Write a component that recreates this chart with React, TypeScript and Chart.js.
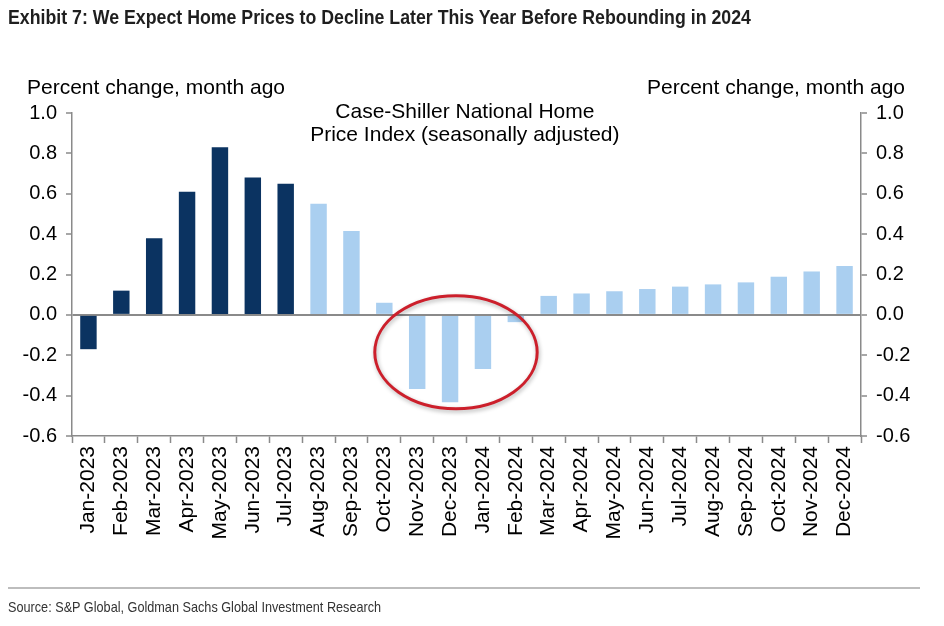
import React, { useEffect, useRef } from 'react';
import { Chart, registerables } from 'chart.js';

Chart.register(...registerables);

const months = [
  'Jan-2023', 'Feb-2023', 'Mar-2023', 'Apr-2023', 'May-2023', 'Jun-2023',
  'Jul-2023', 'Aug-2023', 'Sep-2023', 'Oct-2023', 'Nov-2023', 'Dec-2023',
  'Jan-2024', 'Feb-2024', 'Mar-2024', 'Apr-2024', 'May-2024', 'Jun-2024',
  'Jul-2024', 'Aug-2024', 'Sep-2024', 'Oct-2024', 'Nov-2024', 'Dec-2024'
];

// m/m % change, actuals through Jul-2023 then forecast
const priceChange = [
  -0.17, 0.12, 0.38, 0.61, 0.83, 0.68,
  0.65, 0.55, 0.415, 0.06, -0.367, -0.433,
  -0.268, -0.036, 0.094, 0.106, 0.117, 0.128,
  0.14, 0.151, 0.161, 0.189, 0.215, 0.242
];

const actualMonths = 7;

const yTicks = [-0.6, -0.4, -0.2, 0.0, 0.2, 0.4, 0.6, 0.8, 1.0];

const annotationLines = ['Case-Shiller National Home', 'Price Index (seasonally adjusted)'];

const NAVY = '#0b3361';
const LIGHT = '#aacff0';
const AXIS = '#8a8a8a';
const FONT = "'Liberation Sans', Arial, sans-serif";

// annotation text + red ellipse round the trough
const overlayPlugin = {
  id: 'overlay',
  afterDatasetsDraw(chart: any) {
    const { ctx, scales } = chart;
    const x = scales.x;
    const y = scales.y;

    ctx.save();
    ctx.fillStyle = '#000';
    ctx.font = `21px ${FONT}`;
    ctx.textAlign = 'center';
    ctx.textBaseline = 'middle';
    const cx = x.getPixelForValue(11.45);
    annotationLines.forEach((line, i) => {
      ctx.fillText(line, cx, 112 + i * 23);
    });

    const ex = x.getPixelForValue(11.18);
    const ey = y.getPixelForValue(-0.185);
    const rx = x.getPixelForValue(13.65) - ex;
    const ry = y.getPixelForValue(-0.465) - ey;
    ctx.shadowColor = 'rgba(0,0,0,0.3)';
    ctx.shadowBlur = 4;
    ctx.shadowOffsetX = 1;
    ctx.shadowOffsetY = 2;
    ctx.strokeStyle = '#cc1f2b';
    ctx.lineWidth = 3;
    ctx.beginPath();
    ctx.ellipse(ex, ey, rx, ry, 0, 0, Math.PI * 2);
    ctx.stroke();
    ctx.restore();
  }
};

const HomePriceChart: React.FC = () => {
  const chartRef = useRef<HTMLCanvasElement | null>(null);
  const chartInstance = useRef<Chart | null>(null);

  useEffect(() => {
    if (!chartRef.current) return;
    if (chartInstance.current) chartInstance.current.destroy();
    const ctx = chartRef.current.getContext('2d');
    if (!ctx) return;

    const colors = priceChange.map((_, i) => (i < actualMonths ? NAVY : LIGHT));

    const yScale = (position: 'left' | 'right', width: number) => ({
      type: 'linear' as const,
      position,
      min: yTicks[0],
      max: yTicks[yTicks.length - 1],
      afterBuildTicks: (scale: any) => {
        scale.ticks = yTicks.map(v => ({ value: v }));
      },
      afterFit: (scale: any) => {
        scale.width = width;
      },
      ticks: {
        color: '#000',
        padding: 9,
        font: { family: FONT, size: 20 },
        callback: (v: any) => Number(v).toFixed(1)
      },
      grid: {
        drawOnChartArea: position === 'left',
        color: (c: any) => (c.tick && Math.abs(c.tick.value) < 1e-9 ? AXIS : 'rgba(0,0,0,0)'),
        lineWidth: 2,
        tickColor: AXIS,
        tickLength: 6,
        tickWidth: 1.5
      },
      border: { color: AXIS, width: 1.5 }
    });

    chartInstance.current = new Chart(ctx, {
      type: 'bar',
      data: {
        labels: months,
        datasets: [
          {
            data: priceChange,
            backgroundColor: colors,
            borderWidth: 0,
            categoryPercentage: 1,
            barPercentage: 0.5
          }
        ]
      },
      options: {
        responsive: true,
        maintainAspectRatio: false,
        animation: false,
        layout: { padding: { top: 113, left: 0, right: 0, bottom: 0 } },
        plugins: {
          legend: { display: false },
          tooltip: { enabled: false }
        },
        scales: {
          x: {
            afterFit: (scale: any) => {
              scale.height = 190;
            },
            ticks: {
              color: '#000',
              minRotation: 90,
              maxRotation: 90,
              autoSkip: false,
              padding: 3,
              font: { family: FONT, size: 21 }
            },
            grid: {
              drawOnChartArea: false,
              tickColor: AXIS,
              tickLength: 7,
              tickWidth: 1.5
            },
            border: { color: AXIS, width: 1.5 }
          },
          y: yScale('left', 72),
          y2: yScale('right', 83)
        }
      },
      plugins: [overlayPlugin]
    });

    return () => {
      if (chartInstance.current) {
        chartInstance.current.destroy();
        chartInstance.current = null;
      }
    };
  }, []);

  return <canvas ref={chartRef} />;
};

// no narrow face installed, so squeeze Arial the way Arial Narrow does
const narrow: React.CSSProperties = {
  position: 'absolute',
  fontFamily: FONT,
  whiteSpace: 'nowrap',
  transform: 'scaleX(0.845)',
  transformOrigin: 'left top'
};

export default function App() {
  useEffect(() => {
    document.body.style.margin = '0';
  }, []);

  return (
    <div style={{ position: 'absolute', left: 0, top: 0, width: 944, height: 626, background: '#fff', overflow: 'hidden' }}>
      <div style={{ position: 'absolute', left: 0, top: 0, width: 944, height: 626 }}>
        <HomePriceChart />
      </div>
      <div style={{ ...narrow, left: 8, top: 5, fontWeight: 'bold', fontSize: 21, color: '#1f1f1f' }}>
        Exhibit 7: We Expect Home Prices to Decline Later This Year Before Rebounding in 2024
      </div>
      <div style={{ position: 'absolute', left: 27, top: 75, fontFamily: FONT, fontSize: 21, color: '#000', whiteSpace: 'nowrap' }}>
        Percent change, month ago
      </div>
      <div style={{ position: 'absolute', right: 39, top: 75, fontFamily: FONT, fontSize: 21, color: '#000', whiteSpace: 'nowrap' }}>
        Percent change, month ago
      </div>
      <div style={{ position: 'absolute', left: 8, top: 587, width: 912, height: 2, background: '#bdbdbd' }} />
      <div style={{ ...narrow, left: 8, top: 598, fontSize: 15, color: '#333' }}>
        Source: S&amp;P Global, Goldman Sachs Global Investment Research
      </div>
    </div>
  );
}
